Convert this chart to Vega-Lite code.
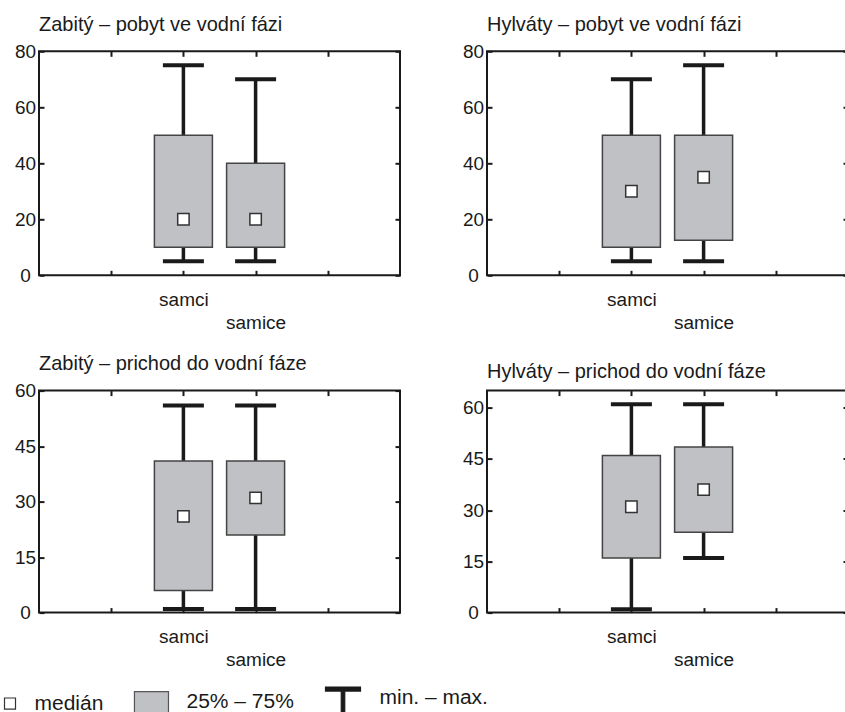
{
  "$schema": "https://vega.github.io/schema/vega-lite/v6.json",
  "background": "white",
  "padding": {"left": 0, "top": 13.3, "right": 0, "bottom": 0},
  "datasets": {
    "d1": [
      {"group": "samci", "min": 5, "q1": 10, "med": 20, "q3": 50, "max": 75},
      {"group": "samice", "min": 5, "q1": 10, "med": 20, "q3": 40, "max": 70}
    ],
    "d2": [
      {"group": "samci", "min": 5, "q1": 10, "med": 30, "q3": 50, "max": 70},
      {"group": "samice", "min": 5, "q1": 12.5, "med": 35, "q3": 50, "max": 75}
    ],
    "d3": [
      {"group": "samci", "min": 1, "q1": 6, "med": 26, "q3": 41, "max": 56},
      {"group": "samice", "min": 1, "q1": 21, "med": 31, "q3": 41, "max": 56}
    ],
    "d4": [
      {"group": "samci", "min": 1, "q1": 16, "med": 31, "q3": 46, "max": 61},
      {"group": "samice", "min": 16, "q1": 23.5, "med": 36, "q3": 48.5, "max": 61}
    ],
    "leg": [
      {"item": "medián"},
      {"item": "25% – 75%"},
      {"item": "min. – max."}
    ]
  },
  "vconcat": [
    {
      "hconcat": [
        {
          "width": 361, "height": 224,
          "title": {"text": "Zabitý – pobyt ve vodní fázi"},
          "data": {"name": "d1"},
          "resolve": {"axis": {"x": "independent", "y": "independent"}},
          "layer": [
            {
              "mark": {"type": "rule", "color": "#1a1a1a", "strokeWidth": 3.5},
              "encoding": {
                "x": {"field": "group", "type": "nominal", "scale": {"type": "point", "domain": ["l", "samci", "samice", "r"], "padding": 1},
                      "axis": {"orient": "bottom", "title": null, "labelAngle": 0, "labelPadding": 20, "labelLineHeight": 23, "labelOverlap": false,
                               "labelExpr": "datum.value == 'samci' ? 'samci' : datum.value == 'samice' ? ['', 'samice'] : ''"}},
                "y": {"field": "min", "type": "quantitative", "scale": {"domain": [0, 80], "nice": false, "zero": false},
                      "axis": {"orient": "left", "title": null, "values": [0, 20, 40, 60, 80], "labelPadding": 19, "labelAlign": "center"}},
                "y2": {"field": "max"}
              }
            },
            {
              "mark": {"type": "bar", "width": 58, "fill": "#c0c1c5", "stroke": "#444444", "strokeWidth": 1.5},
              "encoding": {
                "x": {"field": "group", "type": "nominal", "axis": {"orient": "top", "title": null, "labels": false}},
                "y": {"field": "q1", "type": "quantitative", "axis": {"orient": "right", "title": null, "labels": false, "values": [0, 20, 40, 60, 80]}},
                "y2": {"field": "q3"}
              }
            },
            {
              "mark": {"type": "tick", "orient": "horizontal", "size": 41, "thickness": 4, "color": "#1a1a1a", "opacity": 1},
              "encoding": {
                "x": {"field": "group", "type": "nominal", "axis": null},
                "y": {"field": "max", "type": "quantitative", "axis": null}
              }
            },
            {
              "mark": {"type": "tick", "orient": "horizontal", "size": 41, "thickness": 4, "color": "#1a1a1a", "opacity": 1},
              "encoding": {
                "x": {"field": "group", "type": "nominal", "axis": null},
                "y": {"field": "min", "type": "quantitative", "axis": null}
              }
            },
            {
              "mark": {"type": "point", "shape": "square", "filled": true, "fill": "white", "stroke": "#333333", "strokeWidth": 1.5, "size": 130, "opacity": 1},
              "encoding": {
                "x": {"field": "group", "type": "nominal", "axis": null},
                "y": {"field": "med", "type": "quantitative", "axis": null}
              }
            }
          ]
        },
        {
          "width": 361, "height": 224,
          "title": {"text": "Hylváty – pobyt ve vodní fázi"},
          "data": {"name": "d2"},
          "resolve": {"axis": {"x": "independent", "y": "independent"}},
          "layer": [
            {
              "mark": {"type": "rule", "color": "#1a1a1a", "strokeWidth": 3.5},
              "encoding": {
                "x": {"field": "group", "type": "nominal", "scale": {"type": "point", "domain": ["l", "samci", "samice", "r"], "padding": 1},
                      "axis": {"orient": "bottom", "title": null, "labelAngle": 0, "labelPadding": 20, "labelLineHeight": 23, "labelOverlap": false,
                               "labelExpr": "datum.value == 'samci' ? 'samci' : datum.value == 'samice' ? ['', 'samice'] : ''"}},
                "y": {"field": "min", "type": "quantitative", "scale": {"domain": [0, 80], "nice": false, "zero": false},
                      "axis": {"orient": "left", "title": null, "values": [0, 20, 40, 60, 80], "labelPadding": 19, "labelAlign": "center"}},
                "y2": {"field": "max"}
              }
            },
            {
              "mark": {"type": "bar", "width": 58, "fill": "#c0c1c5", "stroke": "#444444", "strokeWidth": 1.5},
              "encoding": {
                "x": {"field": "group", "type": "nominal", "axis": {"orient": "top", "title": null, "labels": false}},
                "y": {"field": "q1", "type": "quantitative", "axis": {"orient": "right", "title": null, "labels": false, "values": [0, 20, 40, 60, 80]}},
                "y2": {"field": "q3"}
              }
            },
            {
              "mark": {"type": "tick", "orient": "horizontal", "size": 41, "thickness": 4, "color": "#1a1a1a", "opacity": 1},
              "encoding": {
                "x": {"field": "group", "type": "nominal", "axis": null},
                "y": {"field": "max", "type": "quantitative", "axis": null}
              }
            },
            {
              "mark": {"type": "tick", "orient": "horizontal", "size": 41, "thickness": 4, "color": "#1a1a1a", "opacity": 1},
              "encoding": {
                "x": {"field": "group", "type": "nominal", "axis": null},
                "y": {"field": "min", "type": "quantitative", "axis": null}
              }
            },
            {
              "mark": {"type": "point", "shape": "square", "filled": true, "fill": "white", "stroke": "#333333", "strokeWidth": 1.5, "size": 130, "opacity": 1},
              "encoding": {
                "x": {"field": "group", "type": "nominal", "axis": null},
                "y": {"field": "med", "type": "quantitative", "axis": null}
              }
            }
          ]
        }
      ]
    },
    {
      "hconcat": [
        {
          "width": 361, "height": 222,
          "title": {"text": "Zabitý – prichod do vodní fáze"},
          "data": {"name": "d3"},
          "resolve": {"axis": {"x": "independent", "y": "independent"}},
          "layer": [
            {
              "mark": {"type": "rule", "color": "#1a1a1a", "strokeWidth": 3.5},
              "encoding": {
                "x": {"field": "group", "type": "nominal", "scale": {"type": "point", "domain": ["l", "samci", "samice", "r"], "padding": 1},
                      "axis": {"orient": "bottom", "title": null, "labelAngle": 0, "labelPadding": 20, "labelLineHeight": 23, "labelOverlap": false,
                               "labelExpr": "datum.value == 'samci' ? 'samci' : datum.value == 'samice' ? ['', 'samice'] : ''"}},
                "y": {"field": "min", "type": "quantitative", "scale": {"domain": [0, 60], "nice": false, "zero": false},
                      "axis": {"orient": "left", "title": null, "values": [0, 15, 30, 45, 60], "labelPadding": 19, "labelAlign": "center"}},
                "y2": {"field": "max"}
              }
            },
            {
              "mark": {"type": "bar", "width": 58, "fill": "#c0c1c5", "stroke": "#444444", "strokeWidth": 1.5},
              "encoding": {
                "x": {"field": "group", "type": "nominal", "axis": {"orient": "top", "title": null, "labels": false}},
                "y": {"field": "q1", "type": "quantitative", "axis": {"orient": "right", "title": null, "labels": false, "values": [0, 15, 30, 45, 60]}},
                "y2": {"field": "q3"}
              }
            },
            {
              "mark": {"type": "tick", "orient": "horizontal", "size": 41, "thickness": 4, "color": "#1a1a1a", "opacity": 1},
              "encoding": {
                "x": {"field": "group", "type": "nominal", "axis": null},
                "y": {"field": "max", "type": "quantitative", "axis": null}
              }
            },
            {
              "mark": {"type": "tick", "orient": "horizontal", "size": 41, "thickness": 4, "color": "#1a1a1a", "opacity": 1},
              "encoding": {
                "x": {"field": "group", "type": "nominal", "axis": null},
                "y": {"field": "min", "type": "quantitative", "axis": null}
              }
            },
            {
              "mark": {"type": "point", "shape": "square", "filled": true, "fill": "white", "stroke": "#333333", "strokeWidth": 1.5, "size": 130, "opacity": 1},
              "encoding": {
                "x": {"field": "group", "type": "nominal", "axis": null},
                "y": {"field": "med", "type": "quantitative", "axis": null}
              }
            },
            {
              "data": {"name": "leg"},
              "transform": [{"filter": "false"}],
              "mark": {"type": "point", "filled": true},
              "encoding": {
                "shape": {"field": "item", "type": "nominal",
                  "scale": {"domain": ["medián", "25% – 75%", "min. – max."], "range": ["M-0.838,-0.3H-0.243V0.3H-0.838Z", "M-2.03,-0.57H-0.19V0.57H-2.03Z", "M-2.135,-0.595H-0.243V-0.378H-1.095V1H-1.284V-0.378H-2.135Z"]},
                  "legend": {"orient": "none", "legendX": -38.5, "legendY": 627, "direction": "horizontal", "title": null,
                             "labelFont": "Liberation Sans", "labelFontSize": 21, "labelColor": "#1a1a1a", "labelOffset": -5,
                             "symbolSize": 1369, "symbolStrokeWidth": 1.2, "columnPadding": 28, "symbolOpacity": 1, "padding": 0}},
                "fill": {"field": "item", "type": "nominal",
                  "scale": {"domain": ["medián", "25% – 75%", "min. – max."], "range": ["white", "#c0c1c5", "#1a1a1a"]}},
                "stroke": {"field": "item", "type": "nominal",
                  "scale": {"domain": ["medián", "25% – 75%", "min. – max."], "range": ["#333333", "#555555", "#1a1a1a"]}}
              }
            }
          ]
        },
        {
          "width": 361, "height": 222,
          "title": {"text": "Hylváty – prichod do vodní fáze"},
          "data": {"name": "d4"},
          "resolve": {"axis": {"x": "independent", "y": "independent"}},
          "layer": [
            {
              "mark": {"type": "rule", "color": "#1a1a1a", "strokeWidth": 3.5},
              "encoding": {
                "x": {"field": "group", "type": "nominal", "scale": {"type": "point", "domain": ["l", "samci", "samice", "r"], "padding": 1},
                      "axis": {"orient": "bottom", "title": null, "labelAngle": 0, "labelPadding": 20, "labelLineHeight": 23, "labelOverlap": false,
                               "labelExpr": "datum.value == 'samci' ? 'samci' : datum.value == 'samice' ? ['', 'samice'] : ''"}},
                "y": {"field": "min", "type": "quantitative", "scale": {"domain": [0, 65], "nice": false, "zero": false},
                      "axis": {"orient": "left", "title": null, "values": [0, 15, 30, 45, 60], "labelPadding": 19, "labelAlign": "center"}},
                "y2": {"field": "max"}
              }
            },
            {
              "mark": {"type": "bar", "width": 58, "fill": "#c0c1c5", "stroke": "#444444", "strokeWidth": 1.5},
              "encoding": {
                "x": {"field": "group", "type": "nominal", "axis": {"orient": "top", "title": null, "labels": false}},
                "y": {"field": "q1", "type": "quantitative", "axis": {"orient": "right", "title": null, "labels": false, "values": [0, 15, 30, 45, 60]}},
                "y2": {"field": "q3"}
              }
            },
            {
              "mark": {"type": "tick", "orient": "horizontal", "size": 41, "thickness": 4, "color": "#1a1a1a", "opacity": 1},
              "encoding": {
                "x": {"field": "group", "type": "nominal", "axis": null},
                "y": {"field": "max", "type": "quantitative", "axis": null}
              }
            },
            {
              "mark": {"type": "tick", "orient": "horizontal", "size": 41, "thickness": 4, "color": "#1a1a1a", "opacity": 1},
              "encoding": {
                "x": {"field": "group", "type": "nominal", "axis": null},
                "y": {"field": "min", "type": "quantitative", "axis": null}
              }
            },
            {
              "mark": {"type": "point", "shape": "square", "filled": true, "fill": "white", "stroke": "#333333", "strokeWidth": 1.5, "size": 130, "opacity": 1},
              "encoding": {
                "x": {"field": "group", "type": "nominal", "axis": null},
                "y": {"field": "med", "type": "quantitative", "axis": null}
              }
            }
          ]
        }
      ]
    }
  ],
  "spacing": 19.3,
  "config": {
    "font": "Liberation Sans",
    "concat": {"spacing": 59},
    "view": {"stroke": "#1a1a1a", "strokeWidth": 2},
    "axis": {"domain": false, "grid": false, "tickSize": -5, "tickWidth": 2, "tickColor": "#1a1a1a",
             "labelFont": "Liberation Sans", "labelFontSize": 19, "labelColor": "#1a1a1a"},
    "title": {"anchor": "start", "frame": "group", "fontSize": 20, "fontWeight": "normal", "font": "Liberation Sans",
              "color": "#1a1a1a", "baseline": "alphabetic", "offset": 7.7}
  }
}
